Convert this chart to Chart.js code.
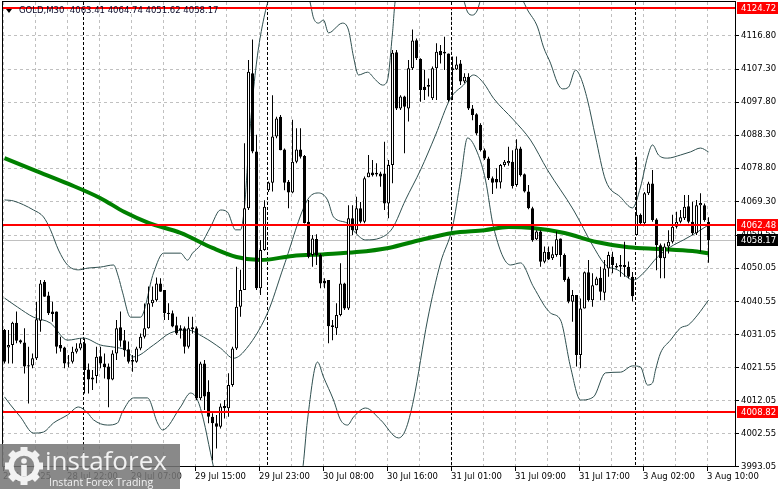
<!DOCTYPE html>
<html>
<head>
<meta charset="utf-8">
<script src="https://cdn.jsdelivr.net/npm/chart.js@4.4.1/dist/chart.umd.min.js"></script>
<style>
  html, body { margin: 0; padding: 0; background: #fff; }
  #wrap { width: 781px; height: 489px; }
</style>
</head>
<body>
<div id="wrap"><canvas id="chart" width="781" height="489"></canvas></div>
<script>
// ---- GOLD M30 chart (MT4 style) ---- //
const symbolTitle = "GOLD,M30";
const lastQuote = [4063.41, 4064.74, 4051.62, 4058.17]; // O H L C

// --- Axis data ---
const timeLabels = ["28 Jul 2025", "28 Jul 22:00", "29 Jul 07:00", "29 Jul 15:00", "29 Jul 23:00",
  "30 Jul 08:00", "30 Jul 16:00", "31 Jul 01:00", "31 Jul 09:00", "31 Jul 17:00", "3 Aug 02:00", "3 Aug 10:00"];
const priceTicks = [3993.05, 4002.55, 4012.05, 4021.55, 4031.05, 4040.55, 4050.05, 4059.55,
  4069.30, 4078.80, 4088.30, 4097.80, 4107.30, 4116.80];
const levels = [4124.72, 4062.48, 4008.82];
const bidPrice = 4058.17;
const daySeparators = [20, 66, 112, 158]; // first bar of each new day

// --- Candles: [open, high, low, close] ---
const ohlc = [
  [4032.3,4032.6,4022.7,4023.2],[4027.3,4032.3,4022.7,4028.0],[4028.0,4034.7,4022.7,4034.4],[4034.4,4037.6,4028.5,4029.2],
  [4029.4,4029.6,4028.4,4028.7],[4028.7,4032.8,4019.8,4021.8],[4022.2,4027.5,4011.2,4021.8],[4022.1,4025.6,4021.3,4024.2],
  [4024.2,4040.4,4023.7,4035.4],[4035.0,4046.7,4031.8,4045.7],[4046.2,4046.7,4041.9,4041.9],[4042.2,4043.3,4036.6,4037.1],
  [4037.6,4040.4,4034.7,4036.9],[4037.6,4037.6,4025.6,4027.5],[4028.0,4030.4,4026.1,4027.0],[4027.3,4027.5,4021.3,4022.7],
  [4023.0,4025.1,4021.6,4022.7],[4023.2,4027.5,4022.7,4026.1],[4026.1,4028.5,4025.6,4027.0],[4027.0,4029.9,4026.5,4028.5],
  [4028.5,4029.9,4014.1,4020.8],[4021.0,4022.7,4014.1,4018.1],[4018.7,4020.8,4015.1,4018.1],[4019.1,4027.5,4017.0,4024.6],
  [4024.8,4027.5,4021.3,4022.7],[4022.7,4025.6,4018.4,4021.6],[4021.8,4022.7,4010.1,4018.1],[4018.1,4026.5,4017.9,4025.6],
  [4025.6,4035.2,4023.7,4032.8],[4033.1,4037.6,4027.5,4029.2],[4029.4,4032.3,4024.6,4026.5],[4026.8,4029.0,4022.7,4023.2],
  [4023.7,4025.1,4020.3,4023.2],[4023.2,4027.5,4022.9,4027.0],[4027.0,4031.3,4026.5,4030.4],[4030.4,4039.9,4029.9,4032.8],
  [4032.8,4044.8,4032.7,4040.0],[4040.0,4044.8,4039.0,4041.0],[4040.9,4047.4,4040.4,4045.7],[4045.7,4047.2,4043.3,4043.3],
  [4043.8,4043.8,4035.2,4037.1],[4037.3,4040.0,4035.2,4036.9],[4037.1,4037.9,4033.1,4033.3],[4033.7,4036.1,4030.9,4031.3],
  [4032.8,4033.7,4029.9,4032.3],[4032.8,4033.3,4025.6,4027.5],[4027.5,4036.1,4027.0,4032.8],[4033.1,4036.1,4031.3,4032.5],
  [4032.8,4033.3,4012.2,4012.7],[4012.7,4023.2,4012.2,4022.7],[4022.7,4023.7,4009.3,4013.2],[4014.6,4017.9,4005.5,4007.4],
  [4007.4,4008.4,3994.9,4005.5],[4005.5,4007.9,3998.3,4004.5],[4004.5,4011.2,4004.0,4010.3],[4010.5,4012.2,4006.9,4009.8],
  [4009.8,4019.9,4007.4,4016.5],[4016.5,4027.5,4016.0,4027.0],[4027.0,4050.5,4026.6,4039.0],[4039.0,4049.6,4036.1,4043.8],
  [4043.8,4086.0,4043.8,4067.3],[4067.3,4109.9,4066.8,4106.5],[4106.1,4115.8,4083.1,4083.6],[4083.6,4088.4,4043.8,4044.3],
  [4044.3,4058.2,4042.4,4055.3],[4055.3,4069.6,4055.1,4067.7],[4072.5,4075.0,4072.0,4074.7],[4074.6,4099.8,4072.1,4087.9],
  [4087.9,4093.6,4087.4,4093.1],[4093.6,4094.1,4084.0,4084.0],[4084.2,4084.5,4072.5,4074.6],[4074.9,4075.4,4067.3,4071.8],
  [4071.8,4092.7,4071.6,4080.7],[4080.7,4090.3,4080.2,4084.2],[4084.2,4090.3,4081.6,4082.1],[4082.3,4082.6,4062.9,4063.1],
  [4063.4,4069.7,4052.9,4053.4],[4053.9,4059.6,4050.5,4058.6],[4058.5,4059.8,4051.0,4053.9],[4053.9,4054.3,4044.3,4045.7],
  [4046.5,4047.2,4044.3,4045.7],[4046.7,4046.7,4028.5,4033.4],[4033.7,4035.2,4029.4,4033.2],[4032.8,4040.0,4030.9,4036.6],
  [4036.6,4051.5,4036.3,4045.7],[4045.7,4045.9,4038.1,4038.5],[4038.5,4068.2,4038.1,4064.4],[4064.4,4068.2,4059.6,4061.0],
  [4061.0,4070.6,4060.0,4067.3],[4067.3,4069.1,4063.0,4063.4],[4063.4,4076.4,4063.0,4075.9],[4076.2,4082.6,4076.2,4077.6],
  [4077.6,4081.2,4076.4,4076.8],[4077.5,4080.2,4076.4,4077.0],[4077.3,4077.8,4073.5,4076.4],[4077.3,4086.4,4066.8,4068.7],
  [4068.7,4081.2,4064.4,4079.7],[4079.7,4112.8,4074.5,4112.0],[4112.1,4112.8,4095.5,4096.0],[4096.0,4099.8,4095.5,4099.4],
  [4099.4,4099.6,4083.1,4096.5],[4096.0,4109.9,4092.2,4107.5],[4107.5,4118.7,4107.0,4115.5],[4115.6,4116.1,4109.9,4110.4],
  [4110.2,4110.4,4097.9,4101.3],[4102.2,4107.0,4098.4,4101.3],[4102.2,4104.6,4099.4,4102.7],[4098.9,4108.0,4098.4,4107.5],
  [4107.5,4114.7,4098.4,4112.3],[4112.5,4114.2,4108.9,4111.3],[4111.8,4116.6,4107.0,4112.3],[4111.8,4111.8,4097.9,4098.4],
  [4107.5,4110.9,4098.4,4107.0],[4107.2,4110.9,4107.0,4108.6],[4108.9,4109.9,4102.7,4103.7],[4103.7,4106.1,4103.2,4105.1],
  [4105.1,4106.1,4095.5,4096.0],[4096.0,4097.0,4092.6,4094.1],[4094.3,4094.6,4088.3,4088.8],[4091.2,4091.7,4083.6,4084.0],
  [4084.0,4084.5,4081.2,4081.6],[4081.6,4082.1,4075.4,4075.9],[4075.9,4076.4,4071.4,4074.6],[4075.7,4078.8,4073.0,4074.7],
  [4074.7,4080.0,4073.0,4079.7],[4079.7,4081.2,4079.2,4080.7],[4080.2,4085.0,4079.5,4080.9],[4080.7,4084.0,4073.0,4073.7],
  [4074.0,4087.1,4073.5,4084.5],[4084.5,4085.0,4076.4,4076.8],[4077.1,4077.3,4071.8,4072.1],[4072.1,4074.0,4067.0,4067.3],
  [4067.3,4067.7,4057.7,4058.2],[4058.4,4061.0,4058.2,4060.6],[4060.6,4061.0,4050.5,4051.9],[4051.9,4056.3,4051.5,4054.8],
  [4054.8,4056.3,4052.4,4052.6],[4052.9,4056.3,4052.4,4054.1],[4053.9,4060.6,4053.4,4058.4],[4058.6,4058.6,4050.5,4053.9],
  [4053.9,4054.3,4046.2,4046.7],[4047.1,4047.6,4040.0,4040.4],[4040.4,4043.8,4034.7,4042.4],[4042.4,4042.4,4021.8,4025.1],
  [4025.1,4041.4,4021.3,4038.5],[4038.5,4049.1,4038.5,4048.9],[4048.9,4052.4,4040.4,4040.9],[4040.9,4048.6,4039.0,4045.2],
  [4045.2,4047.6,4045.2,4047.1],[4047.3,4050.5,4040.9,4043.3],[4043.0,4052.4,4040.9,4050.0],[4050.0,4054.8,4047.6,4053.9],
  [4053.4,4054.8,4048.6,4051.0],[4050.7,4051.5,4050.0,4050.3],[4050.5,4053.9,4047.6,4051.0],[4050.4,4057.7,4047.6,4051.0],
  [4050.5,4052.0,4047.2,4047.6],[4047.6,4049.0,4040.5,4042.0],[4059.6,4082.1,4059.4,4065.4],[4065.4,4065.8,4062.8,4063.0],
  [4063.0,4072.0,4062.5,4071.6],[4071.6,4074.9,4071.1,4074.4],[4074.4,4078.3,4063.4,4063.9],[4064.1,4064.4,4049.5,4056.7],
  [4056.7,4057.2,4047.2,4052.9],[4052.9,4057.2,4047.2,4056.3],[4056.3,4061.0,4054.3,4057.7],[4057.7,4065.4,4057.2,4062.0],
  [4062.0,4066.3,4061.5,4063.4],[4063.4,4066.8,4063.0,4064.7],[4064.4,4071.1,4063.9,4067.7],[4067.9,4071.1,4063.0,4063.4],
  [4063.4,4069.2,4059.6,4060.1],[4060.1,4069.7,4059.6,4068.2],[4068.2,4071.6,4054.8,4068.8],[4068.2,4068.7,4063.4,4063.9],
  [4063.41,4064.74,4051.62,4058.17]
];

// --- Indicators: [bar, price] ---
const maLine = [[0,4081.7],[8,4078.0],[16,4074.3],[24,4070.2],[30,4066.2],[36,4063.1],[44,4060.2],[52,4055.9],
  [58,4053.3],[64,4052.4],[72,4053.6],[80,4054.1],[88,4054.7],[96,4055.9],[104,4058.2],[112,4060.2],[120,4061.0],
  [126,4061.9],[132,4061.6],[140,4060.2],[148,4057.6],[156,4056.1],[164,4055.6],[172,4055.0],[176,4054.4]];

const bbUpper = [[0,4069.7],[2.25,4069.4],[7.25,4066.8],[9.75,4064.8],[11.5,4061.1],[13.5,4055.3],[15.75,4051.0],
  [18.5,4049.6],[20.75,4050.1],[24,4050.4],[27.25,4051.0],[28.5,4047.5],[29.5,4043.2],[31.5,4036.0],[34,4036.0],
  [37.25,4048.7],[39.75,4054.4],[44,4054.4],[45.75,4052.4],[47,4054.4],[49,4056.7],[51.5,4061.9],[54,4066.8],
  [55.75,4066.2],[57.75,4061.1],[59,4061.1],[60,4067.7],[61,4084.0],[62,4098.4],[63.25,4111.3],[64.5,4120.0],
  [66,4127.1],[71,4135.8],[76.25,4127.1],[77.25,4122.0],[78.5,4120.5],[79.75,4121.4],[81,4117.7],[84.5,4120.5],
  [86,4118.5],[87.25,4110.8],[88.5,4105.6],[90.75,4106.4],[92.75,4104.2],[94.5,4102.7],[95.75,4104.2],[97,4117.7],
  [97.75,4127.1],[106.5,4134.3],[114.75,4127.1],[115.75,4123.7],[117,4122.8],[118.25,4124.3],[119,4127.1],
  [124,4132.9],[129.5,4127.1],[130.75,4124.3],[133.25,4119.4],[134.75,4113.6],[136.5,4109.0],[138.25,4103.3],
  [139.5,4101.6],[141,4102.1],[142.75,4107.0],[144,4105.0],[145.75,4098.4],[147.75,4087.8],[150.25,4075.4],
  [154,4070.5],[157,4067.4],[159,4073.4],[160.75,4082.0],[162,4085.5],[163.5,4082.6],[165.75,4081.7],[169,4082.6],
  [171.5,4083.5],[174,4084.6],[176,4083.5]];

const bbMiddle = [[0,4041.5],[3.25,4038.9],[7.25,4036.0],[11.5,4034.3],[15.75,4029.4],[19.75,4030.0],[24,4028.0],
  [27.25,4027.4],[30.25,4026.6],[32.25,4024.6],[37.25,4028.0],[41.5,4031.5],[45.75,4032.3],[49.75,4030.3],[54,4027.1],
  [57.25,4024.2],[59.75,4026.0],[65.75,4037.2],[69.75,4050.4],[75.75,4069.7],[78.5,4071.7],[80.75,4069.7],[82.25,4064.8],
  [85.75,4063.0],[87.75,4060.2],[90.25,4058.2],[94,4058.8],[97,4061.6],[100.25,4069.7],[104,4078.3],[107.75,4088.3],
  [111.5,4098.9],[114.75,4102.7],[117.25,4105.6],[119.75,4103.3],[122.25,4098.9],[127.25,4092.7],[131.5,4086.9],
  [135.75,4078.3],[142.25,4066.8],[147.25,4056.2],[150.25,4051.0],[153.25,4049.6],[157.25,4046.7],[159.75,4048.7],
  [163.25,4053.3],[166.5,4056.2],[169.75,4058.2],[173.25,4060.5],[176,4062.5]];

const bbLower = [[0,4013.1],[1.5,4010.8],[4,4007.3],[7.25,4002.7],[9.75,4003.0],[12.25,4005.6],[15.75,4007.9],
  [18.5,4010.2],[20.75,4008.5],[22.25,4006.5],[25.75,4005.0],[28.25,4005.6],[29.5,4008.8],[32.25,4012.8],[35.75,4012.8],
  [38.25,4005.6],[39.5,4003.6],[44,4010.2],[46.5,4014.2],[48.25,4012.2],[49.75,4006.5],[51.5,3997.0],[52.75,3990.6],
  [59,3972.0],[69,3977.7],[74.5,3992.1],[75.75,4006.5],[78.25,4023.1],[79.75,4018.8],[82.25,4012.2],[84,4006.5],
  [85.75,4005.0],[87.25,4007.3],[90.25,4009.9],[94,4006.5],[98.5,4001.3],[100.25,4003.6],[102.25,4012.2],[105.75,4035.2],
  [109,4051.6],[112,4061.9],[114,4075.4],[115.75,4087.5],[118.25,4083.2],[120.25,4075.4],[122.25,4061.9],[126.5,4051.0],
  [129,4051.6],[132.25,4044.7],[136.5,4037.2],[139,4035.2],[141.5,4021.7],[144,4012.2],[147.25,4013.1],[150.25,4020.0],
  [154,4020.2],[157,4022.0],[159,4021.7],[160.75,4016.5],[162,4017.1],[162.75,4020.8],[164,4025.7],[166.5,4029.4],
  [169,4032.9],[171,4033.8],[173.25,4036.6],[176,4040.9]];

// --- Helpers ---
const FONT = '"DejaVu Sans", sans-serif';
const toXY = arr => arr.map(([x, y]) => ({ x, y }));
const BAR_SHIFT = 0.375; // grid and separators sit between bars

const gridTicks = [];
for (let b = 0; b <= 176; b += 8) gridTicks.push({ value: b - BAR_SHIFT });

function lineSet(data, color, width, order) {
  return {
    type: "line", data: toXY(data), borderColor: color, borderWidth: width,
    pointRadius: 0, cubicInterpolationMode: "monotone", order
  };
}

// --- Overlay plugin: separators, levels, header, axis boxes, watermark ---
const mtOverlay = {
  id: "mtOverlay",
  beforeDatasetsDraw(chart) {
    const { ctx, chartArea: a, scales: { x, y } } = chart;
    ctx.save();
    const by = Math.round(y.getPixelForValue(bidPrice)) + 0.5;
    ctx.strokeStyle = "#c0c0c0";
    ctx.lineWidth = 1;
    ctx.beginPath(); ctx.moveTo(a.left, by); ctx.lineTo(a.right, by); ctx.stroke();

    ctx.strokeStyle = "#000";
    ctx.setLineDash([3, 2]);
    daySeparators.forEach(b => {
      const px = Math.round(x.getPixelForValue(b - BAR_SHIFT)) + 0.5;
      ctx.beginPath(); ctx.moveTo(px, a.top); ctx.lineTo(px, a.bottom); ctx.stroke();
    });
    ctx.restore();
  },
  afterDatasetsDraw(chart) {
    const { ctx, chartArea: a, scales: { y } } = chart;
    ctx.save();
    ctx.fillStyle = "#ff0000";
    levels.forEach(v => {
      const py = Math.round(y.getPixelForValue(v));
      ctx.fillRect(a.left, py - 1, a.right - a.left, 2);
    });

    // header
    ctx.fillStyle = "#000";
    ctx.beginPath();
    ctx.moveTo(6, 9); ctx.lineTo(12, 9); ctx.lineTo(9, 13); ctx.closePath(); ctx.fill();
    ctx.font = "8.5px " + FONT;
    ctx.textBaseline = "middle";
    ctx.fillStyle = "#0a0a28";
    ctx.fillText(symbolTitle + "  " + lastQuote.map(v => v.toFixed(2)).join(" "), 19, 11);
    ctx.restore();
  },
  afterDraw(chart) {
    const { ctx, chartArea: a, scales: { y } } = chart;
    ctx.save();
    // frame
    ctx.strokeStyle = "#000";
    ctx.lineWidth = 1;
    ctx.strokeRect(a.left + 0.5, a.top - 0.5, a.right - a.left, a.bottom - a.top);

    // price boxes on the axis
    ctx.font = "8.5px " + FONT;
    ctx.textBaseline = "middle";
    const box = (v, bg) => {
      const py = Math.round(y.getPixelForValue(v));
      ctx.fillStyle = bg;
      ctx.fillRect(a.right + 2, py - 6, 41, 12);
      ctx.fillStyle = "#fff";
      ctx.fillText(v.toFixed(2), a.right + 6, py + 0.5);
    };
    levels.forEach(v => box(v, "#ff0000"));
    box(bidPrice, "#000");

    // watermark
    ctx.fillStyle = "rgba(118,118,118,0.86)";
    ctx.fillRect(0, 444, 180, 45);
    ctx.fillStyle = "#f2f2f2";
    ctx.strokeStyle = "#f2f2f2";
    const cx = 24, cy = 466;
    for (let k = 0; k < 8; k++) {
      ctx.save();
      ctx.translate(cx, cy); ctx.rotate(k * Math.PI / 4);
      ctx.fillRect(-3.5, -19, 7, 8);
      ctx.restore();
    }
    ctx.lineWidth = 5.5;
    ctx.beginPath(); ctx.arc(cx, cy, 13, 0, Math.PI * 2); ctx.stroke();
    ctx.beginPath(); ctx.arc(cx, cy - 5, 2.8, 0, Math.PI * 2); ctx.fill();
    ctx.fillRect(cx - 2.8, cy - 1, 5.6, 11);

    ctx.textBaseline = "alphabetic";
    ctx.font = '26px "Open Sans", sans-serif';
    ctx.fillText("instaforex", 45, 470);
    ctx.font = '10.5px "Open Sans", sans-serif';
    ctx.fillText("Instant Forex Trading", 49, 486);
    ctx.restore();
  }
};

// --- Build chart ---
const wicks = ohlc.map((c, i) => ({ x: i, y: [c[2], c[1]] }));
const bodies = ohlc.map((c, i) => ({ x: i, y: [Math.min(c[0], c[3]), Math.max(c[0], c[3])] }));
const bodyColors = ohlc.map(c => (c[3] >= c[0] ? "#ffffff" : "#000000"));

new Chart(document.getElementById("chart"), {
  type: "bar",
  data: {
    datasets: [
      { data: bodies, backgroundColor: bodyColors, borderColor: "#000", borderWidth: 1, borderSkipped: false,
        barThickness: 3, minBarLength: 1, grouped: false, inflateAmount: 0, order: 0 },
      { data: wicks, backgroundColor: "#000", borderWidth: 0, barThickness: 1, grouped: false,
        inflateAmount: 0, order: 1 },
      lineSet(maLine, "#008000", 4, 2),
      lineSet(bbUpper, "#2f4f4f", 1, 3),
      lineSet(bbMiddle, "#2f4f4f", 1, 3),
      lineSet(bbLower, "#2f4f4f", 1, 3)
    ]
  },
  options: {
    responsive: false,
    animation: false,
    devicePixelRatio: 1,
    events: [],
    layout: { padding: { left: 2, top: 2, right: 0, bottom: 0 } },
    plugins: { legend: { display: false }, tooltip: { enabled: false } },
    scales: {
      x: {
        type: "linear", min: -0.625, max: 182.625, offset: false,
        afterBuildTicks: s => { s.ticks = gridTicks.map(t => ({ value: t.value })); },
        afterFit: s => { s.height = 22; s.paddingLeft = 0; s.paddingRight = 0; },
        grid: { offset: false, color: "#c0c0c0", lineWidth: 1, drawTicks: true, tickLength: 4,
          tickColor: c => (c.index % 2 === 0 ? "#000" : "rgba(0,0,0,0)"), tickBorderDash: [] },
        border: { display: false, dash: [3, 3] },
        ticks: {
          autoSkip: false, maxRotation: 0, minRotation: 0, align: "start", padding: 1,
          color: "#000", font: { family: FONT, size: 8.5 },
          callback: (v, idx) => (idx % 2 === 0 ? timeLabels[idx / 2] : "")
        }
      },
      y: {
        position: "right", min: 3992.95, max: 4126.57, beginAtZero: false,
        afterBuildTicks: s => { s.ticks = priceTicks.map(v => ({ value: v })); },
        afterFit: s => { s.width = 46; s.paddingTop = 0; s.paddingBottom = 0; },
        grid: { color: "#c0c0c0", lineWidth: 1, tickLength: 4, tickColor: "#000", tickBorderDash: [] },
        border: { display: false, dash: [3, 3] },
        ticks: { padding: 2, color: "#000", font: { family: FONT, size: 8.5 }, callback: v => v.toFixed(2) }
      }
    }
  },
  plugins: [mtOverlay]
});
</script>
</body>
</html>
